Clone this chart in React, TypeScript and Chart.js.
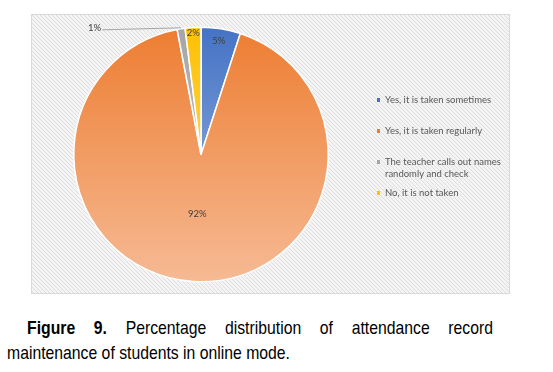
import React, { useEffect, useRef, useState } from "react";
import { Chart, registerables } from "chart.js";
Chart.register(...registerables);

const categories = [
  "Yes, it is taken sometimes",
  "Yes, it is taken regularly",
  "The teacher calls out names randomly and check",
  "No, it is not taken",
];
const legendLines = [
  ["Yes, it is taken sometimes"],
  ["Yes, it is taken regularly"],
  ["The teacher calls out names", "randomly and check"],
  ["No, it is not taken"],
];
const values = [5, 92, 1, 2];
const percentLabels = ["5%", "92%", "1%", "2%"];
const topColors = ["#4472C4", "#ED7D31", "#A5A5A5", "#FFC000"];
const bottomColors = ["#A7BDE6", "#F6BA94", "#D0D0D0", "#FFE08A"];
const labelFactors = [0.9, 0.47, -1, 0.96]; // -1 => outside with leader line
const legendRowY = [86, 117, 148, 179];
const captionLine1Bold = "Figure 9.";
const captionLine1 = "Percentage distribution of attendance record";
const captionLine2 = "maintenance of students in online mode.";

function makePattern(ctx: CanvasRenderingContext2D) {
  const c = document.createElement("canvas");
  c.width = 4;
  c.height = 4;
  const p = c.getContext("2d")!;
  p.fillStyle = "#f4f4f4";
  p.fillRect(0, 0, 4, 4);
  p.fillStyle = "#dedede";
  for (let i = 0; i < 4; i++) {
    p.fillRect(i, i, 1, 1);
  }
  return ctx.createPattern(c, "repeat");
}

export default function App() {
  const ref = useRef<HTMLCanvasElement | null>(null);
  const line2Ref = useRef<HTMLSpanElement | null>(null);
  const [scale, setScale] = useState(0.8);

  useEffect(() => {
    if (line2Ref.current) {
      const w = line2Ref.current.getBoundingClientRect().width / scale;
      if (w > 0) setScale(283 / w);
    }
  }, []);

  useEffect(() => {
    const canvas = ref.current!;
    const bgPlugin = {
      id: "bg",
      beforeDraw(chart: any) {
        const ctx = chart.ctx;
        ctx.save();
        const pat = makePattern(ctx);
        ctx.fillStyle = pat || "#f0f0f0";
        ctx.fillRect(0, 0, chart.width, chart.height);
        ctx.strokeStyle = "#d9d9d9";
        ctx.lineWidth = 1;
        ctx.strokeRect(0.5, 0.5, chart.width - 1, chart.height - 1);
        ctx.restore();
      },
    };
    const labelPlugin = {
      id: "labels",
      afterDatasetsDraw(chart: any) {
        const ctx = chart.ctx;
        const meta = chart.getDatasetMeta(0);
        ctx.save();
        ctx.font = "9.5px Lato";
        ctx.fillStyle = "#404040";
        ctx.textAlign = "center";
        ctx.textBaseline = "middle";
        meta.data.forEach((arc: any, i: number) => {
          const mid = (arc.startAngle + arc.endAngle) / 2;
          const f = labelFactors[i];
          if (f > 0) {
            const r = arc.outerRadius * f;
            ctx.fillText(percentLabels[i], arc.x + Math.cos(mid) * r, arc.y + Math.sin(mid) * r);
          } else {
            const ax = arc.x + Math.cos(mid) * arc.outerRadius;
            const ay = arc.y + Math.sin(mid) * arc.outerRadius;
            const lx = ax - 79;
            const ly = ay + 1;
            ctx.strokeStyle = "#a6a6a6";
            ctx.lineWidth = 1;
            ctx.beginPath();
            ctx.moveTo(lx, ly);
            ctx.lineTo(ax, ay - 1);
            ctx.stroke();
            ctx.textAlign = "right";
            ctx.fillText(percentLabels[i], lx - 1, ly - 2);
            ctx.textAlign = "center";
          }
        });
        ctx.textAlign = "left";
        ctx.font = "9.5px Lato";
        legendLines.forEach((lines, i) => {
          const y = legendRowY[i];
          ctx.fillStyle = topColors[i];
          ctx.fillRect(346, y - 2, 3, 4);
          ctx.fillStyle = "#595959";
          lines.forEach((t, j) => ctx.fillText(t, 354, y + j * 12));
        });
        ctx.restore();
      },
    };
    const chart = new Chart(canvas, {
      type: "pie",
      data: {
        labels: categories,
        datasets: [
          {
            data: values,
            backgroundColor: (c: any) => {
              const area = c.chart.chartArea;
              if (!area) return topColors[c.dataIndex];
              const g = c.chart.ctx.createLinearGradient(0, area.top, 0, area.bottom);
              g.addColorStop(0, topColors[c.dataIndex]);
              g.addColorStop(1, bottomColors[c.dataIndex]);
              return g;
            },
            borderColor: "#ffffff",
            borderWidth: 1.5,
            hoverOffset: 0,
          },
        ],
      },
      options: {
        animation: false,
        responsive: false,
        maintainAspectRatio: false,
        layout: { padding: { left: 42, right: 181, top: 12, bottom: 11 } },
        plugins: { legend: { display: false }, tooltip: { enabled: false } },
        events: [],
      },
      plugins: [bgPlugin, labelPlugin],
    });
    return () => chart.destroy();
  }, []);

  const capFont = '19px "Liberation Sans", Arial, sans-serif';
  return (
    <div style={{ position: "absolute", left: 0, top: 0, width: 553, height: 372, background: "#fff", overflow: "hidden" }}>
      <canvas ref={ref} width={479} height={280} style={{ position: "absolute", left: 31, top: 14, width: 479, height: 280 }} />
      <div
        style={{
          position: "absolute",
          left: 27,
          top: 317,
          width: 466 / scale,
          font: capFont,
          color: "#000",
          textAlign: "justify",
          textAlignLast: "justify",
          transform: `scaleX(${scale})`,
          transformOrigin: "0 0",
        }}
      >
        <b>{captionLine1Bold}</b> {captionLine1}
      </div>
      <div
        style={{
          position: "absolute",
          left: 7,
          top: 342,
          font: capFont,
          color: "#000",
          whiteSpace: "nowrap",
          transform: `scaleX(${scale})`,
          transformOrigin: "0 0",
        }}
      >
        <span ref={line2Ref}>{captionLine2}</span>
      </div>
    </div>
  );
}
